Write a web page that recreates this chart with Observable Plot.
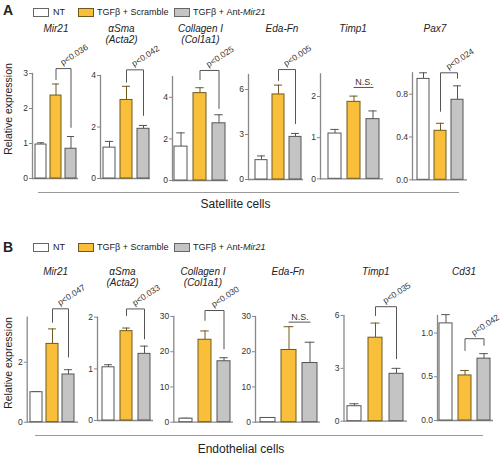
<!DOCTYPE html>
<html><head><meta charset="utf-8">
<script src="https://cdn.jsdelivr.net/npm/d3@7"></script>
<script src="https://cdn.jsdelivr.net/npm/@observablehq/plot@0.6"></script>
<style>
html,body{margin:0;padding:0;background:#fff;}
#root{position:relative;width:504px;height:458px;overflow:hidden;font-family:"Liberation Sans",Arial,sans-serif;color:#222;}
.abs{position:absolute;white-space:nowrap;}
.box{position:absolute;width:16px;height:8.5px;box-sizing:border-box;border:1px solid #666;}
.leg{position:absolute;font-size:9px;line-height:9px;white-space:nowrap;color:#222;}
.ttl{position:absolute;font-size:10px;line-height:11.5px;font-style:italic;text-align:center;transform:translateX(-50%);white-space:nowrap;color:#222;}
.ylab{position:absolute;font-size:10.5px;line-height:10.5px;transform:translate(-50%,-50%) rotate(-90deg);white-space:nowrap;color:#222;}
.sep{position:absolute;height:0;border-top:1px solid #999;}
.cap{position:absolute;font-size:12px;line-height:12px;transform:translateX(-50%);white-space:nowrap;color:#222;}
.letter{position:absolute;font-size:14px;line-height:14px;font-weight:bold;}
</style></head>
<body><div id="root"></div>
<script>
// ---------- data ----------
const groups = ["NT", "TGFβ + Scramble", "TGFβ + Ant-Mir21"];
const panelLetters = ["A", "B"];
const cellTypes = ["Satellite cells", "Endothelial cells"];
const yLabel = "Relative expression";

const satTitles = [["Mir21"], ["αSma", "(Acta2)"], ["Collagen I", "(Col1a1)"], ["Eda-Fn"], ["Timp1"], ["Pax7"]];
const endTitles = [["Mir21"], ["αSma", "(Acta2)"], ["Collagen I", "(Col1a1)"], ["Eda-Fn"], ["Timp1"], ["Cd31"]];

// Satellite cells (mean, SEM) in order NT, Scramble, Ant-Mir21
const satMir21 = [0.97, 2.37, 0.85],   satMir21Sem = [0.05, 0.33, 0.35];
const satSma   = [1.2, 3.05, 1.93],    satSmaSem   = [0.24, 0.53, 0.13];
const satCol   = [1.63, 4.2, 2.75],    satColSem   = [0.66, 0.26, 0.41];
const satEda   = [1.29, 5.67, 2.84],   satEdaSem   = [0.28, 0.62, 0.23];
const satTimp1 = [1.1, 1.87, 1.45],    satTimp1Sem = [0.1, 0.14, 0.2];
const satPax7  = [0.943, 0.458, 0.748], satPax7Sem = [0.057, 0.07, 0.13];

// Endothelial cells
const endMir21 = [1.0, 2.61, 1.59],    endMir21Sem = [0.02, 0.5, 0.16];
const endSma   = [1.03, 1.73, 1.29],   endSmaSem   = [0.05, 0.06, 0.15];
const endCol   = [1.0, 23.4, 17.3],    endColSem   = [0.12, 2.5, 1.0];
const endEda   = [1.2, 20.5, 16.8],    endEdaSem   = [0.1, 6.6, 5.9];
const endTimp1 = [0.85, 4.74, 2.69],   endTimp1Sem = [0.14, 0.83, 0.31];
const endCd31  = [1.11, 0.515, 0.707], endCd31Sem  = [0.1, 0.057, 0.057];

// tick values
const satTicks = [[0,1,2,3],[0,2,4],[0,2,4],[0,3,6],[0,1,2],[0,0.4,0.8]];
const endTicks = [[0,2],[0,1,2],[0,10,20,30],[0,10,20,30],[0,3,6],[0,0.5,1.0]];

// significance labels
const satPLabels = ["p<0.036", "p<0.042", "p<0.025", "p<0.005", "N.S.", "p<0.024"];
const endPLabels = ["p<0.047", "p<0.033", "p<0.030", "N.S.", "p<0.035", "p<0.042"];

// ---------- styles & layout ----------
const fills = ["#ffffff", "#f9bf3a", "#c4c4c4"];
const strokes = ["#555555", "#6e5a1e", "#555555"];
const axisColor = "#888";

// page-pixel frame of each small chart
const layout = [
  {axisX:32,    endX:78,  yTop:73,    yBase:178,   max:3,    bars:[34,76.5],    pi:0.26,  tx:56},
  {axisX:100,   endX:150, yTop:75,    yBase:178,   max:4,    bars:[103,148.6],  pi:0.32,  tx:121.5},
  {axisX:172,   endX:228, yTop:76,    yBase:180,   max:5,    bars:[174,225.5],  pi:0.3,   tx:200.5},
  {axisX:248,   endX:303, yTop:74,    yBase:179,   max:7,    bars:[254.3,300.7],pi:0.3,   tx:282},
  {axisX:320,   endX:383, yTop:73.4,  yBase:178.3, max:2.55, bars:[327,380.7],  pi:0.315, tx:353},
  {axisX:412,   endX:467, yTop:72.3,  yBase:179.3, max:1.0,  bars:[415.7,463.3],pi:0.32,  tx:435},
  {axisX:26.7,  endX:78,  yTop:316.7, yBase:421.7, max:3.5,  bars:[29.3,75],    pi:0.28,  tx:55.7},
  {axisX:97,    endX:153, yTop:316.7, yBase:420,   max:2,    bars:[101.7,150.7],pi:0.32,  tx:122.5},
  {axisX:173.3, endX:233, yTop:316,   yBase:421.7, max:30,   bars:[178.3,231],  pi:0.32,  tx:203},
  {axisX:255,   endX:320, yTop:316,   yBase:421.7, max:30,   bars:[259.3,318.3],pi:0.3,   tx:288},
  {axisX:343.5, endX:407, yTop:315,   yBase:420.7, max:6,    bars:[346,404],    pi:0.325, tx:375.8},
  {axisX:437,   endX:493, yTop:315,   yBase:420,   max:1.2,  bars:[438.3,490.7],pi:0.34,  tx:464},
];
// bracket heights (data units): h = horizontal bar, legL/legR = leg ends
const brackets = [
  {h:3.14, legL:2.83, legR:1.46},
  {h:4.22, legL:3.74, legR:2.45},
  {h:5.29, legL:4.85, legR:3.46},
  {h:7.33, legL:6.6,  legR:3.73},
  {h:2.22},
  {h:1.0,  legL:0.64, legR:0.95},
  {h:3.78, legL:3.33, legR:2.17},
  {h:2.16, legL:2.03, legR:1.58},
  {h:31.7, legL:28.9, legR:20.8},
  {h:28.4},
  {h:6.5,  legL:6.0,  legR:3.55},
  {h:0.935,legL:0.8,  legR:0.86},
];

const means = [satMir21, satSma, satCol, satEda, satTimp1, satPax7, endMir21, endSma, endCol, endEda, endTimp1, endCd31];
const sems  = [satMir21Sem, satSmaSem, satColSem, satEdaSem, satTimp1Sem, satPax7Sem, endMir21Sem, endSmaSem, endColSem, endEdaSem, endTimp1Sem, endCd31Sem];
const ticks = [...satTicks, ...endTicks];
const pLabels = [...satPLabels, ...endPLabels];
const titles = [...satTitles, ...endTitles];

const root = document.getElementById("root");
const fmt1 = d3.format(".1f");

function smallChart(k) {
  const L = layout[k], note = brackets[k], label = pLabels[k];
  const rows = groups.map((g, i) => ({g, mean: means[k][i], sem: sems[k][i]}));
  const step = (L.bars[1] - L.bars[0]) / (3 - L.pi);
  const bw = step * (1 - L.pi);
  const capInset = bw * 0.17;
  const decimal = ticks[k].some(t => !Number.isInteger(t));
  const marks = [
    Plot.ruleY([0], {stroke: axisColor, strokeWidth: 1.3}),
    Plot.frame({anchor: "left", stroke: axisColor, strokeWidth: 1.3}),
    Plot.axisY(ticks[k], {anchor: "left", tickSize: 3, tickPadding: 1.5, fontSize: 8.5,
      tickFormat: decimal ? fmt1 : d3.format("d"), label: null, stroke: axisColor})
  ];
  groups.forEach((g, i) => {
    const r = rows.filter(d => d.g === g);
    marks.push(
      Plot.ruleX(r, {x: "g", y1: "mean", y2: d => d.mean + d.sem, stroke: strokes[i], strokeWidth: 1}),
      Plot.tickY(r, {x: "g", y: d => d.mean + d.sem, stroke: strokes[i], strokeWidth: 1, insetLeft: capInset, insetRight: capInset}),
      Plot.barY(r, {x: "g", y: "mean", fill: fills[i], stroke: strokes[i], strokeWidth: 1})
    );
  });
  if (note.legL != null) {
    marks.push(
      Plot.line([
        {g: groups[1], y: note.legL}, {g: groups[1], y: note.h},
        {g: groups[2], y: note.h}, {g: groups[2], y: note.legR}
      ], {x: "g", y: "y", stroke: "#555", strokeWidth: 1}),
      Plot.text([{g: groups[1], y: note.h, t: label}], {x: "g", y: "y", text: "t", rotate: -33,
        textAnchor: "start", lineAnchor: "bottom", dx: step / 2 - 1, dy: -3, fontSize: 8.5, fill: "#333"})
    );
  } else {
    marks.push(
      Plot.line([{g: groups[1], y: note.h}, {g: groups[2], y: note.h}], {x: "g", y: "y", stroke: "#555", strokeWidth: 1}),
      Plot.text([{g: groups[1], y: note.h, t: label}], {x: "g", y: "y", text: "t",
        textAnchor: "middle", lineAnchor: "bottom", dx: step / 2, dy: -2.5, fontSize: 9, fill: "#333"})
    );
  }
  const svg = Plot.plot({
    width: 504, height: 458,
    marginLeft: L.axisX, marginRight: 504 - L.endX,
    marginTop: L.yTop, marginBottom: 458 - L.yBase,
    x: {domain: groups, range: L.bars, paddingInner: L.pi, paddingOuter: 0, axis: null},
    y: {domain: [0, L.max]},
    style: {position: "absolute", left: "0px", top: "0px", background: "none", overflow: "visible",
      fontFamily: '"Liberation Sans", Arial, sans-serif', color: "#333"},
    marks
  });
  root.appendChild(svg);

  // title
  const t = document.createElement("div");
  t.className = "ttl";
  t.style.left = L.tx + "px";
  t.style.top = (k < 6 ? 22.8 : 265.8) + "px";
  t.innerHTML = titles[k].join("<br>");
  root.appendChild(t);
}

for (let k = 0; k < 12; k++) smallChart(k);

// panel decorations
const panelTop = [0, 243];
panelLetters.forEach((letter, p) => {
  const y0 = panelTop[p];
  const el = (cls, html, css) => { const d = document.createElement("div"); d.className = cls; d.innerHTML = html; Object.assign(d.style, css); root.appendChild(d); return d; };
  el("letter", letter, {left: "3px", top: (p ? 240 : 3) + "px"});
  const ly = p ? 243 : 8.3;
  const boxX = [32.5, 78, 173.5], textX = [53, 97, 193];
  groups.forEach((g, i) => {
    el("box", "", {left: boxX[i] + "px", top: ly + "px", background: fills[i], borderColor: i === 1 ? "#6e5a1e" : "#666"});
    el("leg", g.replace("Mir21", "<i>Mir21</i>"), {left: textX[i] + "px", top: (ly - 0.2) + "px"});
  });
  el("ylab", yLabel, {left: (p ? 8 : 8) + "px", top: (p ? 363 : 108.5) + "px"});
  el("sep", "", p ? {left: "35px", width: "448px", top: "435px"} : {left: "38px", width: "421px", top: "191.5px"});
  el("cap", cellTypes[p], p ? {left: "241px", top: "443.2px"} : {left: "235.5px", top: "198.1px"});
});
</script>
</body></html>
